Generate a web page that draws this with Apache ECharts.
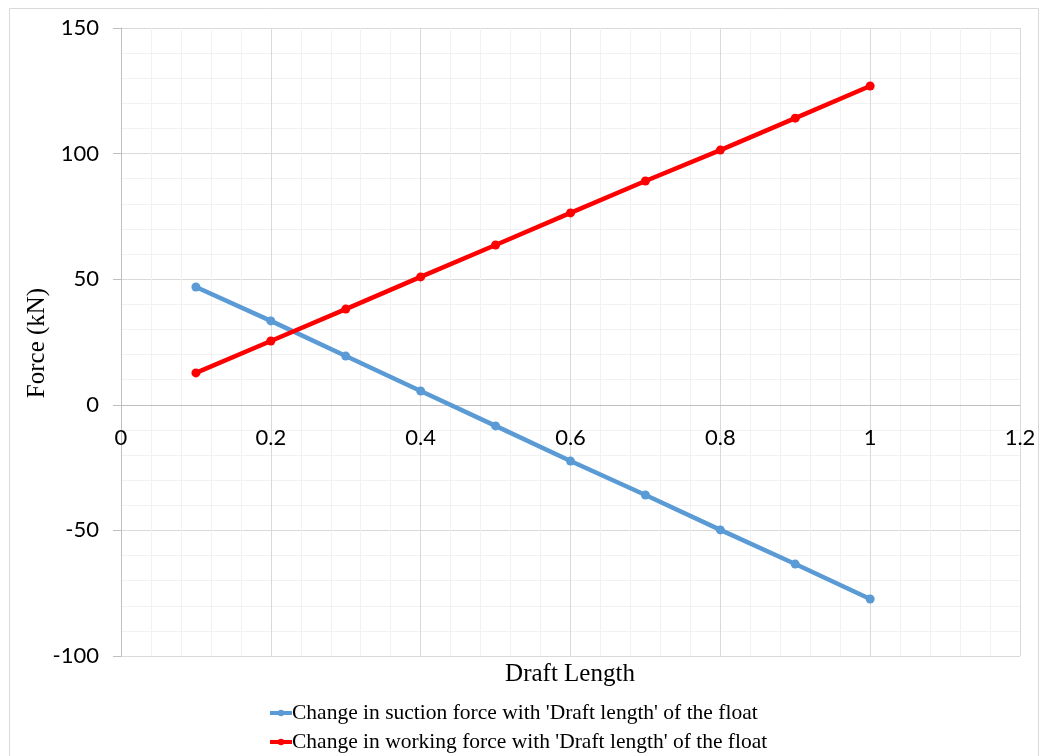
<!DOCTYPE html>
<html>
<head>
<meta charset="utf-8">
<script src="https://cdn.jsdelivr.net/npm/echarts@6/dist/echarts.min.js"></script>
<style>
  html, body { margin: 0; padding: 0; background: #fff; }
  #chart { width: 1040px; height: 756px; }
</style>
</head>
<body>
<div id="chart"></div>
<script>
// draft length (x) and forces in kN
var draftLength = [0.1, 0.2, 0.3, 0.4, 0.5, 0.6, 0.7, 0.8, 0.9, 1.0];
var suctionForce = [46.9, 33.4, 19.4, 5.5, -8.4, -22.4, -35.9, -49.8, -63.4, -77.3];
var workingForce = [12.7, 25.4, 38.1, 50.9, 63.6, 76.4, 89.1, 101.4, 114.1, 126.9];
var seriesNames = [
  "Change in suction force with 'Draft length' of the float",
  "Change in working force with 'Draft length' of the float"
];

function pairs(xs, ys) {
  return xs.map(function (x, i) { return [x, ys[i]]; });
}

var labelFont = 'Lato, "Open Sans", sans-serif';
var serif = '"Liberation Serif", "DejaVu Serif", serif';

var chart = echarts.init(document.getElementById('chart'));

chart.setOption({
  animation: false,
  backgroundColor: '#fff',
  grid: { left: 121, right: 20, top: 28, bottom: 100 },
  graphic: [
    {
      type: 'rect', silent: true, z: -1,
      shape: { x: 9.5, y: 8.5, width: 1029, height: 760 },
      style: { fill: 'none', stroke: '#d9d9d9', lineWidth: 1 }
    },
    {
      type: 'text', x: 570, y: 674,
      style: { text: 'Draft Length', font: '25px ' + serif, fill: '#000', align: 'center', verticalAlign: 'middle' }
    },
    {
      type: 'text', x: 37, y: 343, rotation: Math.PI / 2,
      style: { text: 'Force (kN)', font: '25px ' + serif, fill: '#000', align: 'center', verticalAlign: 'middle' }
    }
  ],
  legend: {
    orient: 'vertical',
    left: 268,
    top: 702,
    padding: 0,
    itemGap: 7,
    itemWidth: 22,
    itemHeight: 8,
    lineStyle: { width: 4 },
    textStyle: { fontFamily: serif, fontSize: 21.5, color: '#000', padding: [0, 0, 0, -5] },
    data: seriesNames
  },
  xAxis: {
    type: 'value',
    min: 0, max: 1.2, interval: 0.2,
    // pull the axis up to the y = 0 line
    offset: -251,
    axisLine: { onZero: false, lineStyle: { color: '#bfbfbf', width: 1 } },
    axisTick: { show: false },
    axisLabel: { margin: 22, fontFamily: labelFont, fontSize: 22, color: '#000' },
    splitLine: { show: true, lineStyle: { color: '#d9d9d9', width: 1 } },
    minorSplitLine: { show: true, lineStyle: { color: '#f2f2f2', width: 1 } },
    minorTick: { show: false, splitNumber: 5 }
  },
  yAxis: {
    type: 'value',
    min: -100, max: 150, interval: 50,
    axisLine: { show: true, onZero: false, lineStyle: { color: '#bfbfbf', width: 1 } },
    axisTick: { show: true, length: 8, lineStyle: { color: '#bfbfbf' } },
    axisLabel: { margin: 22, fontFamily: labelFont, fontSize: 22, color: '#000' },
    splitLine: { show: true, lineStyle: { color: '#d9d9d9', width: 1 } },
    minorSplitLine: { show: true, lineStyle: { color: '#f2f2f2', width: 1 } },
    minorTick: { show: false, splitNumber: 5 }
  },
  series: [
    {
      name: seriesNames[0],
      type: 'line',
      data: pairs(draftLength, suctionForce),
      color: '#5b9bd5',
      lineStyle: { width: 4.5 },
      symbol: 'circle',
      symbolSize: 9,
      itemStyle: { color: '#5b9bd5' }
    },
    {
      name: seriesNames[1],
      type: 'line',
      data: pairs(draftLength, workingForce),
      color: '#ff0000',
      lineStyle: { width: 4.5 },
      symbol: 'circle',
      symbolSize: 9,
      itemStyle: { color: '#ff0000' }
    }
  ]
});
</script>
</body>
</html>
